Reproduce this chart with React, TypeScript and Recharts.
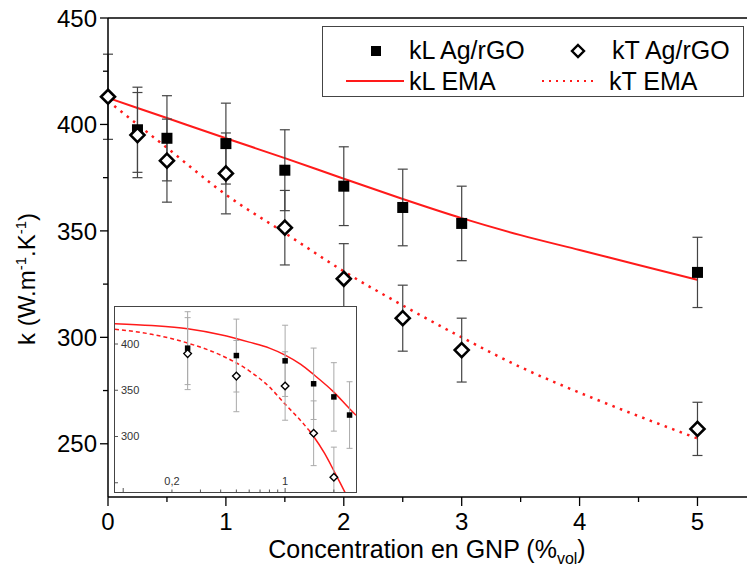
import { ComposedChart, Scatter, Line, XAxis, YAxis, ErrorBar, ReferenceLine } from "recharts";

// main plot: measured conductivities (W/m/K) vs GNP volume fraction (%)
const concL = [0.25, 0.5, 1, 1.5, 2, 2.5, 3, 5];
const kLMeasured = [397.5, 393.5, 391, 378.5, 371, 361, 353.5, 330.5];
const kLError = [20, 20, 19, 19, 18.5, 18, 17.5, 16.5];

const concT = [0, 0.25, 0.5, 1, 1.5, 2, 2.5, 3, 5];
const kTMeasured = [413, 395, 383, 377, 351.5, 327.5, 309, 294, 257];
const kTError = [20, 20, 19.5, 19, 17.5, 16.5, 15.5, 15, 12.5];

// EMA model curves
const emaConc = [0, 0.5, 1, 1.5, 2, 2.5, 3, 3.5, 4, 4.5, 5];
const kLEma = [412.5, 403, 393.5, 384.2, 374.5, 365, 356, 348, 341, 334, 327];
const kTEma = [411, 389, 367, 349, 331, 315, 300, 286, 274, 263, 252.5];

const xTicks = [0, 0.5, 1, 1.5, 2, 2.5, 3, 3.5, 4, 4.5, 5];
const yTicks = [250, 275, 300, 325, 350, 375, 400, 425, 450];

// inset (log x axis)
const insetConcL = [0.25, 0.5, 1, 1.5, 2, 2.5];
const insetKL = [395.5, 387.5, 381.8, 357, 342.8, 323.2];
const insetKLError = [39.4, 39.4, 38.5, 38.6, 37, 36];

const insetConcT = [0.25, 0.5, 1, 1.5, 2];
const insetKT = [389.6, 365.3, 354.6, 303.5, 256];
const insetKTError = [38.9, 38.5, 37, 35, 32.5];

const insetEmaConcL = [0.089, 0.15, 0.25, 0.4, 0.6, 0.8, 1, 1.25, 1.5, 2, 2.5, 2.74];
const insetKLEma = [422, 420, 416.5, 410, 402, 395.5, 388, 378, 367, 348, 330, 323];
const insetEmaConcT = [0.089, 0.15, 0.25, 0.4, 0.6, 0.8, 1, 1.25, 1.4, 1.5, 1.75, 2, 2.2, 2.4];
const insetKTEma = [416, 410.5, 401, 388, 371, 353.5, 335, 317, 307, 300, 282, 263, 249, 236];

const insetXTicks = [0.1, 0.2, 0.3, 0.4, 0.5, 0.6, 0.7, 0.8, 0.9, 1, 2];
const insetXLabels: Record<string, string> = { "0.2": "0,2", "1": "1" };
const insetYTicks = [250, 300, 350, 400];

const toPoints = (xs: number[], ys: number[], errs?: number[]) =>
  xs.map((x, i) => ({ x, y: ys[i], err: errs ? errs[i] : 0 }));

const FONT = "'Liberation Sans', Arial, sans-serif";
const RED = "#ff1a1a";

const square = (size: number) => (props: any) => (
  <rect x={props.cx - size / 2} y={props.cy - size / 2} width={size} height={size} fill="#000" />
);

const diamond = (r: number, sw: number) => (props: any) => {
  const { cx, cy } = props;
  return (
    <polygon
      points={`${cx},${cy - r} ${cx + r},${cy} ${cx},${cy + r} ${cx - r},${cy}`}
      fill="#fff"
      stroke="#000"
      strokeWidth={sw}
    />
  );
};

const YTick = ({ x, y, payload }: any) => {
  const major = payload.value % 50 === 0;
  return (
    <g>
      <line x1={x} x2={x - (major ? 8 : 5)} y1={y} y2={y} stroke="#000" strokeWidth={1.3} />
      {major && (
        <text x={x - 11} y={y} dy="0.36em" textAnchor="end" fontSize={24} fontFamily={FONT} fill="#000">
          {payload.value}
        </text>
      )}
    </g>
  );
};

const XTick = ({ x, y, payload }: any) => {
  const major = Number.isInteger(payload.value);
  return (
    <g>
      <line x1={x} x2={x} y1={y} y2={y + (major ? 9 : 5)} stroke="#000" strokeWidth={1.3} />
      {major && (
        <text x={x} y={y + 33} textAnchor="middle" fontSize={24} fontFamily={FONT} fill="#000">
          {payload.value}
        </text>
      )}
    </g>
  );
};

const InsetXTick = ({ x, y, payload }: any) => {
  const label = insetXLabels[String(payload.value)];
  const major = payload.value === 0.1 || payload.value === 1;
  return (
    <g>
      <line x1={x} x2={x} y1={y} y2={y - (major ? 4 : 2.5)} stroke="#555" strokeWidth={1} />
      {label && (
        <text x={x} y={y - 7} textAnchor="middle" fontSize={11} fontFamily={FONT} fill="#333">
          {label}
        </text>
      )}
    </g>
  );
};

const InsetYTick = ({ x, y, payload }: any) => (
  <g>
    <line x1={x} x2={x + 3} y1={y} y2={y} stroke="#555" strokeWidth={1} />
    {payload.value !== 250 && (
      <text x={x + 6} y={y} dy="0.36em" textAnchor="start" fontSize={11} fontFamily={FONT} fill="#333">
        {payload.value}
      </text>
    )}
  </g>
);

const App = () => {
  const kLPoints = toPoints(concL, kLMeasured, kLError);
  const kTPoints = toPoints(concT, kTMeasured, kTError);
  const kLEmaPoints = toPoints(emaConc, kLEma);
  const kTEmaPoints = toPoints(emaConc, kTEma);

  const insetKLPoints = toPoints(insetConcL, insetKL, insetKLError);
  const insetKTPoints = toPoints(insetConcT, insetKT, insetKTError);
  const insetKLEmaPoints = toPoints(insetEmaConcL, insetKLEma);
  const insetKTEmaAll = toPoints(insetEmaConcT, insetKTEma);
  const insetKTDashed = insetKTEmaAll.filter((p) => p.x <= 1.4);
  const insetKTSolid = insetKTEmaAll.filter((p) => p.x >= 1.4);

  return (
    <div style={{ position: "absolute", left: 0, top: 0, width: 747, height: 569, background: "#fff" }}>
      <ComposedChart width={747} height={569} margin={{ top: 18, right: 0, bottom: 0, left: 0 }}>
        <XAxis
          type="number"
          dataKey="x"
          domain={[0, 5.42]}
          ticks={xTicks}
          interval={0}
          height={72}
          tickSize={0}
          tickMargin={0}
          tickLine={false}
          tick={<XTick />}
          axisLine={{ stroke: "#000", strokeWidth: 1.5 }}
        />
        <YAxis
          type="number"
          domain={[225, 450]}
          ticks={yTicks}
          interval={0}
          width={108}
          tickSize={0}
          tickMargin={0}
          tickLine={false}
          tick={<YTick />}
          axisLine={{ stroke: "#000", strokeWidth: 1.5 }}
        />
        <ReferenceLine y={450} stroke="#000" strokeWidth={1.5} />
        <Line data={kLEmaPoints} dataKey="y" type="monotone" stroke={RED} strokeWidth={2} dot={false} isAnimationActive={false} />
        <Line
          data={kTEmaPoints}
          dataKey="y"
          type="monotone"
          stroke={RED}
          strokeWidth={2.5}
          strokeDasharray="2.5 5.5"
          dot={false}
          isAnimationActive={false}
        />
        <Scatter data={kLPoints} dataKey="y" shape={square(11)} isAnimationActive={false}>
          <ErrorBar dataKey="err" direction="y" width={5} stroke="#444" strokeWidth={1.2} />
        </Scatter>
        <Scatter data={kTPoints} dataKey="y" shape={diamond(7, 2.6)} isAnimationActive={false}>
          <ErrorBar dataKey="err" direction="y" width={5} stroke="#444" strokeWidth={1.2} />
        </Scatter>
      </ComposedChart>

      {/* axis titles */}
      <svg width={747} height={569} style={{ position: "absolute", left: 0, top: 0, pointerEvents: "none" }}>
        <text x={427} y={558} textAnchor="middle" fontSize={25} fontFamily={FONT} fill="#000">
          Concentration en GNP (%
          <tspan fontSize={16} dy={6}>vol</tspan>
          <tspan dy={-6}>)</tspan>
        </text>
        <text
          transform="translate(35,279) rotate(-90)"
          textAnchor="middle"
          fontSize={24}
          fontFamily={FONT}
          fill="#000"
        >
          k (W.m
          <tspan fontSize={15} dy={-9}>-1</tspan>
          <tspan dy={9}>.K</tspan>
          <tspan fontSize={15} dy={-9}>-1</tspan>
          <tspan dy={9}>)</tspan>
        </text>
      </svg>

      {/* legend */}
      <svg width={422} height={71} style={{ position: "absolute", left: 322, top: 26 }}>
        <rect x={0.5} y={0.5} width={421} height={70} fill="#fff" stroke="#444" strokeWidth={1} />
        <rect x={49} y={20} width={10} height={10} fill="#000" />
        <text x={87} y={33} fontSize={25} fontFamily={FONT} fill="#000">kL Ag/rGO</text>
        <polygon points="256,19 262,25 256,31 250,25" fill="#fff" stroke="#000" strokeWidth={2.4} />
        <text x={290} y={33} fontSize={25} fontFamily={FONT} fill="#000">kT Ag/rGO</text>
        <line x1={24} x2={82} y1={55} y2={55} stroke={RED} strokeWidth={2} />
        <text x={87} y={64} fontSize={25} fontFamily={FONT} fill="#000">kL EMA</text>
        <line x1={220} x2={276} y1={55} y2={55} stroke={RED} strokeWidth={2} strokeDasharray="2 5" />
        <text x={287} y={64} fontSize={25} fontFamily={FONT} fill="#000">kT EMA</text>
      </svg>

      {/* inset */}
      <div
        style={{
          position: "absolute",
          left: 114,
          top: 306,
          width: 243,
          height: 187,
          border: "1px solid #444",
          background: "#fff",
          boxSizing: "border-box",
        }}
      >
        <ComposedChart width={241} height={185} margin={{ top: 0, right: 0, bottom: 0, left: 0 }}>
          <XAxis
            type="number"
            dataKey="x"
            scale="log"
            domain={[0.089, 2.74]}
            allowDataOverflow
            ticks={insetXTicks}
            interval={0}
            mirror
            height={20}
            tickSize={0}
            tickMargin={0}
            tickLine={false}
            axisLine={false}
            tick={<InsetXTick />}
          />
          <YAxis
            type="number"
            domain={[240, 440]}
            allowDataOverflow
            ticks={insetYTicks}
            interval={0}
            mirror
            width={30}
            tickSize={0}
            tickMargin={0}
            tickLine={false}
            axisLine={false}
            tick={<InsetYTick />}
          />
          <Line data={insetKLEmaPoints} dataKey="y" type="monotone" stroke={RED} strokeWidth={1.5} dot={false} isAnimationActive={false} />
          <Line
            data={insetKTDashed}
            dataKey="y"
            type="monotone"
            stroke={RED}
            strokeWidth={1.5}
            strokeDasharray="4 3"
            dot={false}
            isAnimationActive={false}
          />
          <Line data={insetKTSolid} dataKey="y" type="monotone" stroke={RED} strokeWidth={1.5} dot={false} isAnimationActive={false} />
          <Scatter data={insetKLPoints} dataKey="y" shape={square(5.5)} isAnimationActive={false}>
            <ErrorBar dataKey="err" direction="y" width={3} stroke="#aaa" strokeWidth={1} />
          </Scatter>
          <Scatter data={insetKTPoints} dataKey="y" shape={diamond(3.8, 1.4)} isAnimationActive={false}>
            <ErrorBar dataKey="err" direction="y" width={3} stroke="#aaa" strokeWidth={1} />
          </Scatter>
        </ComposedChart>
      </div>
    </div>
  );
};

export default App;
